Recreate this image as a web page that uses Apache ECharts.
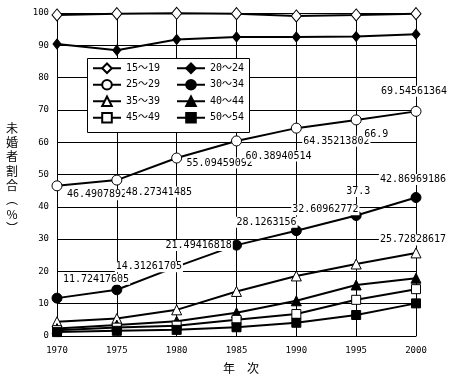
<!DOCTYPE html>
<html><head><meta charset="utf-8">
<script src="https://cdn.jsdelivr.net/npm/echarts@6/dist/echarts.min.js"></script>
<style>html,body{margin:0;padding:0;background:#fff}#c{width:454px;height:381px}</style>
</head><body><div id="c"></div>
<script>
const years = ['1970','1975','1980','1985','1990','1995','2000'];
const yTicks = [0,10,20,30,40,50,60,70,80,90,100];
const seriesNames = ['15～19','20～24','25～29','30～34','35～39','40～44','45～49','50～54'];
const v15_19 = [99.4, 99.8, 99.9, 99.8, 99.1, 99.4, 99.8];
const v20_24 = [90.4, 88.5, 91.8, 92.6, 92.6, 92.7, 93.4];
const v25_29 = [46.49078921, 48.27341485, 55.09459092, 60.38940514, 64.35213802, 66.9, 69.54561364];
const v30_34 = [11.72417605, 14.31261705, 21.49416818, 28.1263156, 32.60962772, 37.3, 42.86969186];
const v35_39 = [4.4, 5.4, 8.1, 13.8, 18.6, 22.3, 25.72828617];
const v40_44 = [2.3, 3.4, 4.6, 7.2, 10.9, 15.8, 17.9];
const v45_49 = [1.8, 2.6, 3.2, 5.0, 6.8, 11.2, 14.5];
const v50_54 = [1.2, 1.6, 1.9, 2.7, 4.1, 6.5, 10.1];
const labels25_29 = ['46.49078921','48.27341485','55.09459092','60.38940514','64.35213802','66.9','69.54561364'];
const labels30_34 = ['11.72417605','14.31261705','21.49416818','28.1263156','32.60962772','37.3','42.86969186'];
const labels35_39 = [null,null,null,null,null,null,'25.72828617'];

// label offsets (layout, px)
const off25_29 = [[43,9],[42,12],[43,5],[42,15],[40,13],[20,14],[-2,-20]];
const off30_34 = [[39,-19],[32,-23],[22,-21],[30,-23],[29,-21],[2,-24],[-3,-18]];
const off35_39 = [null,null,null,null,null,null,[-3,-13]];

const labelStyle = {
  show: true, position: 'inside', color: '#000', fontFamily: 'DejaVu Sans Mono',
  fontSize: 10, backgroundColor: '#fff', padding: [1,1,0,1], lineHeight: 10
};
function build(vals, texts, offs) {
  return vals.map((v, i) => {
    const item = { value: v };
    if (texts && texts[i]) {
      const t = texts[i];
      item.label = Object.assign({}, labelStyle, { offset: offs[i], formatter: () => t });
    }
    return item;
  });
}
const symbols = ['diamond','diamond','circle','circle','triangle','triangle','rect','rect'];
const hollow = [true,false,true,false,true,false,true,false];
const sizes = [[10,12],[8,10],10,10,10,10,9,9];
const allVals = [v15_19, v20_24, v25_29, v30_34, v35_39, v40_44, v45_49, v50_54];
const allLabels = [null, null, labels25_29, labels30_34, labels35_39, null, null, null];
const allOffs = [null, null, off25_29, off30_34, off35_39, null, null, null];

const series = seriesNames.map((n, k) => ({
  name: n, type: 'line', data: build(allVals[k], allLabels[k], allOffs[k]),
  symbol: symbols[k], symbolSize: sizes[k], showAllSymbol: true,
  lineStyle: { color: '#000', width: 2 },
  itemStyle: { color: hollow[k] ? '#fff' : '#000', borderColor: '#000', borderWidth: 1 },
  label: { show: false }, emphasis: { disabled: true }, animation: false
}));

const chart = echarts.init(document.getElementById('c'), null, { renderer: 'canvas' });
chart.setOption({
  backgroundColor: '#fff',
  animation: false,
  grid: { left: 57, right: 38, top: 13, bottom: 45, containLabel: false },
  xAxis: {
    type: 'category', data: years, boundaryGap: false,
    axisLine: { lineStyle: { color: '#000', width: 1 } },
    axisTick: { show: false },
    axisLabel: { color: '#000', fontFamily: 'DejaVu Sans Mono', fontSize: 9, margin: 10 },
    splitLine: { show: true, lineStyle: { color: '#000', width: 1 } }
  },
  yAxis: {
    type: 'value', min: yTicks[0], max: yTicks[yTicks.length-1], interval: 10,
    axisLine: { show: true, lineStyle: { color: '#000', width: 1 } },
    axisTick: { show: false },
    axisLabel: { color: '#000', fontFamily: 'DejaVu Sans Mono', fontSize: 9, margin: 8 },
    splitLine: { show: true, lineStyle: { color: '#000', width: 1 } }
  },
  legend: {
    data: seriesNames, left: 92, top: 62, width: 175, padding: 0, itemGap: 4,
    itemWidth: 28, itemHeight: 12, z: 6,
    textStyle: { color: '#000', fontFamily: 'DejaVu Sans Mono, Noto Sans CJK JP', fontSize: 10, width: 46, lineHeight: 12.5 },
    selectedMode: false
  },
  graphic: [
    { type: 'rect', z: 5, shape: { x: 87.5, y: 58.5, width: 162, height: 74 },
      style: { fill: '#fff', stroke: '#000', lineWidth: 1 } },
    { type: 'text', x: 12, y: 121, z: 5,
      style: { text: ['未','婚','者','割','合','︵','%','︶'].join('\n'), textAlign: 'center',
        fill: '#000', font: '12px "Noto Sans CJK JP"', lineHeight: 14.3 } },
    { type: 'text', x: 241, y: 362, z: 5,
      style: { text: '年　次', textAlign: 'center', fill: '#000', font: '12px "Noto Sans CJK JP"' } }
  ],
  series: series
});
</script></body></html>
